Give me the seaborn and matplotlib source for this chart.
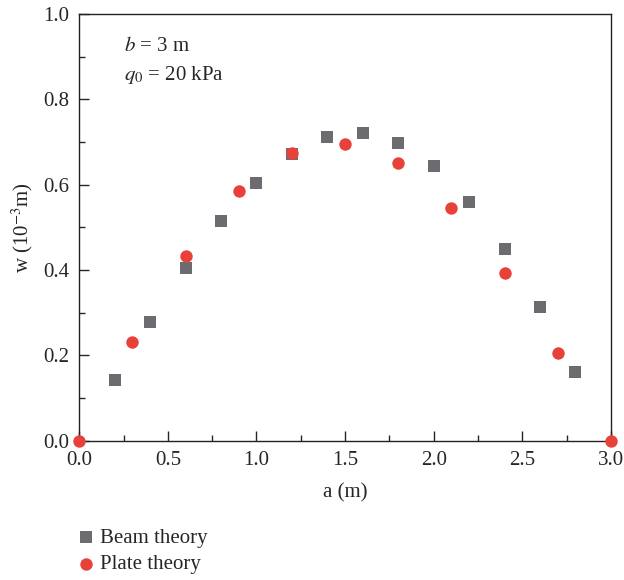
import numpy as np
import pandas as pd
import matplotlib
matplotlib.use('Agg')
import matplotlib.pyplot as plt
from matplotlib.ticker import MultipleLocator
import seaborn as sns

sns.set_style('ticks')
plt.rcParams['font.family'] = ['Liberation Serif', 'DejaVu Serif']
plt.rcParams['mathtext.fontset'] = 'stix'

# data
beam_a = [0.2, 0.4, 0.6, 0.8, 1.0, 1.2, 1.4, 1.6, 1.8, 2.0, 2.2, 2.4, 2.6, 2.8]
beam_w = [0.142, 0.279, 0.405, 0.515, 0.605, 0.672, 0.711, 0.720, 0.697, 0.644, 0.560, 0.449, 0.313, 0.161]
plate_a = [0.0, 0.3, 0.6, 0.9, 1.2, 1.5, 1.8, 2.1, 2.4, 2.7, 3.0]
plate_w = [0.0, 0.232, 0.434, 0.586, 0.675, 0.696, 0.651, 0.546, 0.392, 0.205, 0.0]

beam_color = '#6b6b70'
plate_color = '#e8413a'
fs = 15

fig = plt.figure(figsize=(6.24, 5.8), dpi=100)
ax = fig.add_axes([0.127, 0.24, 0.852, 0.736])

sns.scatterplot(x=beam_a, y=beam_w, color=beam_color, marker='s', s=78,
                linewidth=0, clip_on=False, zorder=5, label='Beam theory', ax=ax)
sns.scatterplot(x=plate_a, y=plate_w, color=plate_color, marker='o', s=80,
                linewidth=0, clip_on=False, zorder=6, label='Plate theory', ax=ax)

ax.set_xlim(0, 3.0)
ax.set_ylim(0, 1.0)
ax.xaxis.set_major_locator(MultipleLocator(0.5))
ax.xaxis.set_minor_locator(MultipleLocator(0.25))
ax.yaxis.set_major_locator(MultipleLocator(0.2))
ax.yaxis.set_minor_locator(MultipleLocator(0.1))
ax.tick_params(which='major', direction='in', length=7, width=1, labelsize=fs, pad=7)
ax.tick_params(which='minor', direction='in', length=4, width=1)
for sp in ax.spines.values():
    sp.set_linewidth(1)
    sp.set_color('#222222')

ax.set_xlabel('a (m)', fontsize=fs, labelpad=10)
ax.set_ylabel('w (10$^{-3}$m)', fontsize=fs, labelpad=6)

ax.text(0.085, 0.923, '$b$ = 3 m', transform=ax.transAxes, fontsize=fs, va='center')
ax.text(0.085, 0.858, '$q_0$ = 20 kPa', transform=ax.transAxes, fontsize=fs, va='center')

handles, labels = ax.get_legend_handles_labels()
ax.get_legend().remove()
fig.legend(handles, labels, loc='upper left', bbox_to_anchor=(0.107, 0.104),
           frameon=False, fontsize=fs, handletextpad=0.2, labelspacing=0.35,
           handlelength=1.0, borderaxespad=0)

fig.savefig('out.png', dpi=100)
